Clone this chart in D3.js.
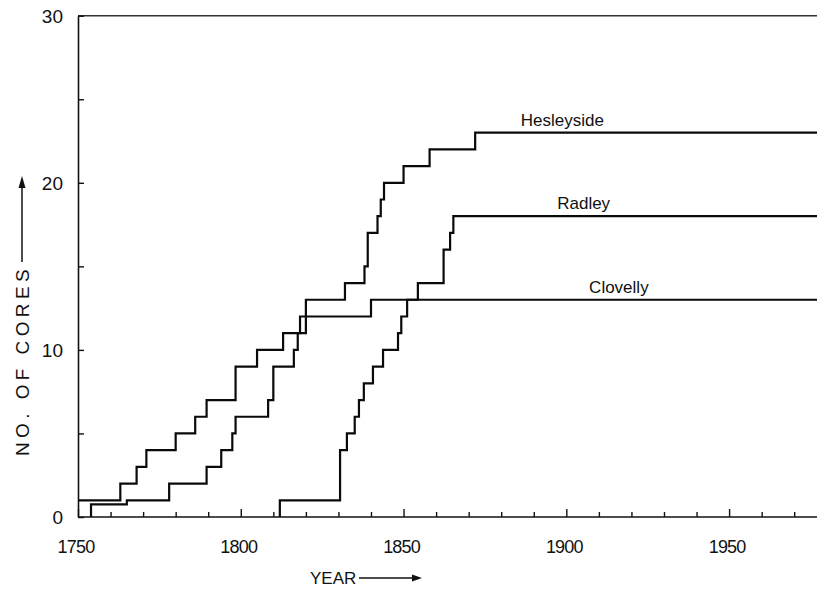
<!DOCTYPE html>
<html><head><meta charset="utf-8">
<script src="https://cdn.jsdelivr.net/npm/d3@7"></script>
<style>
html,body{margin:0;padding:0;background:#fff;}
svg{display:block;}
text{font-family:"Liberation Sans",Arial,Helvetica,sans-serif;fill:#111;}
</style></head>
<body>
<svg id="chart" width="817" height="590"></svg>
<script>
// ---- data (step functions: value becomes v at year y) ----
const hesleysideYears  = [1750,1763,1768,1771,1780,1786,1789.5,1798.4,1805,1813,1820,1832,1838,1839,1842,1843,1844,1850,1858,1872,1977];
const hesleysideValues = [1,   2,   3,   4,   5,   6,   7,     9,     10,  11,  13,  14,  15,  17,  18,  19,  20,  21,  22,  23,  23];

const radleyYears  = [1812,1812,1830.5,1832.6,1835,1836.3,1837.8,1840.6,1843.7,1848.3,1849.3,1851.1,1854.4,1862.3,1864.3,1865.3,1977];
const radleyValues = [0,   1,   4,     5,     6,   7,     8,     9,     10,    11,    12,    13,    14,    16,    17,    18,    18];

const clovellyYears  = [1754,1754,1765,1778,1789.5,1794,1797.4,1798.4,1808.4,1810,1816.3,1817.5,1818.2,1840,1977];
const clovellyValues = [0,   0.75,1,   2,   3,     4,   5,     6,     7,     9,   10,    11,    12,    13,  13];

const seriesNames = ["Hesleyside","Radley","Clovelly"];
const labelYears  = [1886, 1897.2, 1907];
const xTickValues = d3.range(1750, 1971, 10);
const xTickLabels = [1750, 1800, 1850, 1900, 1950];
const yTickValues = [0, 5, 10, 15, 20, 25, 30];
const yTickLabels = [0, 10, 20, 30];

// ---- layout ----
const svg = d3.select("#chart");
const x = d3.scaleLinear().domain([1750, 1977]).range([78, 817]);
const y = d3.scaleLinear().domain([0, 30]).range([517, 15.7]);

// frame
svg.append("line").attr("x1", x(1750)).attr("x2", 817).attr("y1", y(30)).attr("y2", y(30))
  .attr("stroke", "#333").attr("stroke-width", 1.5);

// x axis
const xAxis = d3.axisBottom(x).tickValues(xTickValues).tickSizeInner(-5).tickSizeOuter(0).tickFormat("");
const gx = svg.append("g").attr("transform", `translate(0,${y(0)})`).call(xAxis);
gx.select(".domain").attr("d", `M${x(1750)},0H817`).attr("stroke", "#111").attr("stroke-width", 1.6);
gx.selectAll(".tick line").attr("stroke", "#111").attr("stroke-width", 1.4)
  .attr("y2", d => d % 50 === 0 ? -8 : -5);
svg.append("g").selectAll("text").data(xTickLabels).join("text")
  .attr("x", d => x(d) - 2).attr("y", 553).attr("text-anchor", "middle")
  .attr("font-size", 18).attr("letter-spacing", -0.8).text(d => d);

// y axis
const yAxis = d3.axisLeft(y).tickValues(yTickValues).tickSizeInner(-6).tickSizeOuter(0).tickFormat("");
const gy = svg.append("g").attr("transform", `translate(${x(1750)},0)`).call(yAxis);
gy.select(".domain").attr("stroke", "#111").attr("stroke-width", 1.6);
gy.selectAll(".tick line").attr("stroke", "#111").attr("stroke-width", 1.4);
svg.append("g").selectAll("text").data(yTickLabels).join("text")
  .attr("x", 63).attr("y", d => y(d) + 7).attr("text-anchor", "end")
  .attr("font-size", 19).text(d => d);

// axis titles with arrows
svg.append("text").attr("x", 310).attr("y", 584).attr("font-size", 17).text("YEAR");
svg.append("line").attr("x1", 359).attr("x2", 414).attr("y1", 578).attr("y2", 578)
  .attr("stroke", "#111").attr("stroke-width", 1.5);
svg.append("path").attr("d", "M422,578 L412,574.5 L412,581.5 Z").attr("fill", "#111");

svg.append("text").attr("transform", "translate(29,456) rotate(-90)")
  .attr("font-size", 19).attr("letter-spacing", 4.4).text("NO. OF CORES");
svg.append("line").attr("x1", 22).attr("x2", 22).attr("y1", 262).attr("y2", 186)
  .attr("stroke", "#111").attr("stroke-width", 1.5);
svg.append("path").attr("d", "M22,176 L18.5,188 L25.5,188 Z").attr("fill", "#111");

// step lines
const line = d3.line().x(d => x(d[0])).y(d => y(d[1])).curve(d3.curveStepAfter);
const series = [
  d3.zip(hesleysideYears, hesleysideValues),
  d3.zip(radleyYears, radleyValues),
  d3.zip(clovellyYears, clovellyValues)
];
svg.append("g").selectAll("path").data(series).join("path")
  .attr("d", line).attr("fill", "none").attr("stroke", "#0a0a0a")
  .attr("stroke-width", 2.2).attr("stroke-linejoin", "miter");

// series labels
const endValues = [hesleysideValues, radleyValues, clovellyValues].map(v => v[v.length - 1]);
svg.append("g").selectAll("text").data(seriesNames).join("text")
  .attr("x", (d, i) => x(labelYears[i])).attr("y", (d, i) => y(endValues[i]) - 7)
  .attr("font-size", 17).text(d => d);
</script>
</body></html>
